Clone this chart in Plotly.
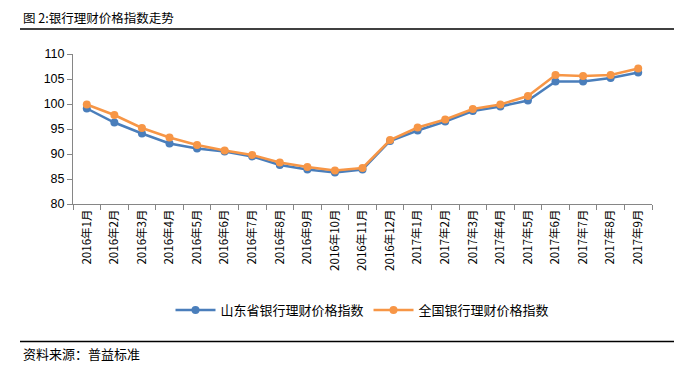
import plotly.graph_objects as go

categories = ["2016年1月", "2016年2月", "2016年3月", "2016年4月", "2016年5月", "2016年6月",
              "2016年7月", "2016年8月", "2016年9月", "2016年10月", "2016年11月", "2016年12月",
              "2017年1月", "2017年2月", "2017年3月", "2017年4月", "2017年5月", "2017年6月",
              "2017年7月", "2017年8月", "2017年9月"]
shandong = [99.1, 96.3, 94.1, 92.1, 91.1, 90.5, 89.5, 87.8, 86.9, 86.3, 86.9, 92.6,
            94.7, 96.5, 98.6, 99.5, 100.7, 104.5, 104.5, 105.2, 106.3]
national = [99.9, 97.8, 95.2, 93.3, 91.8, 90.7, 89.8, 88.3, 87.4, 86.7, 87.2, 92.8,
            95.3, 96.9, 99.0, 99.9, 101.6, 105.8, 105.6, 105.8, 107.1]
y_ticks = [80, 85, 90, 95, 100, 105, 110]

FONT = "Noto Sans CJK SC"

# page has an 8px body margin; figure drawn at offset 8
OFF = 8
W, H = 694 - OFF, 374 - OFF
L, R, T, B = 73 - OFF, 42, 54 - OFF, 170
pw = W - L - R
ph = H - T - B

def px_x(x):
    return (x - OFF - L) / pw

def px_y(y):
    return (H - B - (y - OFF)) / ph

fig = go.Figure()
fig.add_trace(go.Scatter(x=categories, y=shandong, name="山东省银行理财价格指数",
                         mode="lines+markers",
                         line=dict(color="#4A7EBB", width=2.5),
                         marker=dict(color="#4A7EBB", size=8)))
fig.add_trace(go.Scatter(x=categories, y=national, name="全国银行理财价格指数",
                         mode="lines+markers",
                         line=dict(color="#F79646", width=2.5),
                         marker=dict(color="#F79646", size=8)))

def hline(ypix):
    return dict(type="line", xref="paper", yref="paper",
                x0=px_x(20), x1=px_x(674), y0=px_y(ypix), y1=px_y(ypix),
                line=dict(color="#000000", width=1.5))

fig.update_layout(
    width=W, height=H,
    margin=dict(l=L, r=R, t=T, b=B),
    paper_bgcolor="white", plot_bgcolor="white",
    font=dict(family=FONT, size=12, color="#000000"),
    showlegend=True,
    legend=dict(orientation="h", x=0.5, xanchor="center", y=px_y(310), yanchor="middle",
                font=dict(size=13, family=FONT), itemwidth=40, tracegroupgap=0),
    xaxis=dict(type="category", range=[-0.5, len(categories) - 0.5],
               tickson="boundaries", ticks="outside", ticklen=5, tickcolor="#868686",
               showline=True, linecolor="#868686", linewidth=1, showgrid=False,
               tickangle=-90, tickfont=dict(size=11.5, family=FONT, color="#000000"),
               zeroline=False),
    yaxis=dict(range=[80, 110], tickvals=y_ticks, ticks="outside", ticklen=5,
               tickcolor="#868686", showline=True, linecolor="#868686", linewidth=1,
               showgrid=False, zeroline=False,
               tickfont=dict(size=12.5, family="Liberation Sans", color="#000000")),
    annotations=[
        dict(text="图 2:银行理财价格指数走势", x=px_x(21), y=px_y(17.5), xref="paper", yref="paper",
             showarrow=False, xanchor="left", yanchor="middle",
             font=dict(size=12.5, family=FONT, color="#000000")),
        dict(text="资料来源：普益标准", x=px_x(21), y=px_y(353), xref="paper", yref="paper",
             showarrow=False, xanchor="left", yanchor="middle",
             font=dict(size=13, family=FONT, color="#000000")),
    ],
    shapes=[hline(29), hline(341.5)],
)

fig.write_html("out.html")
